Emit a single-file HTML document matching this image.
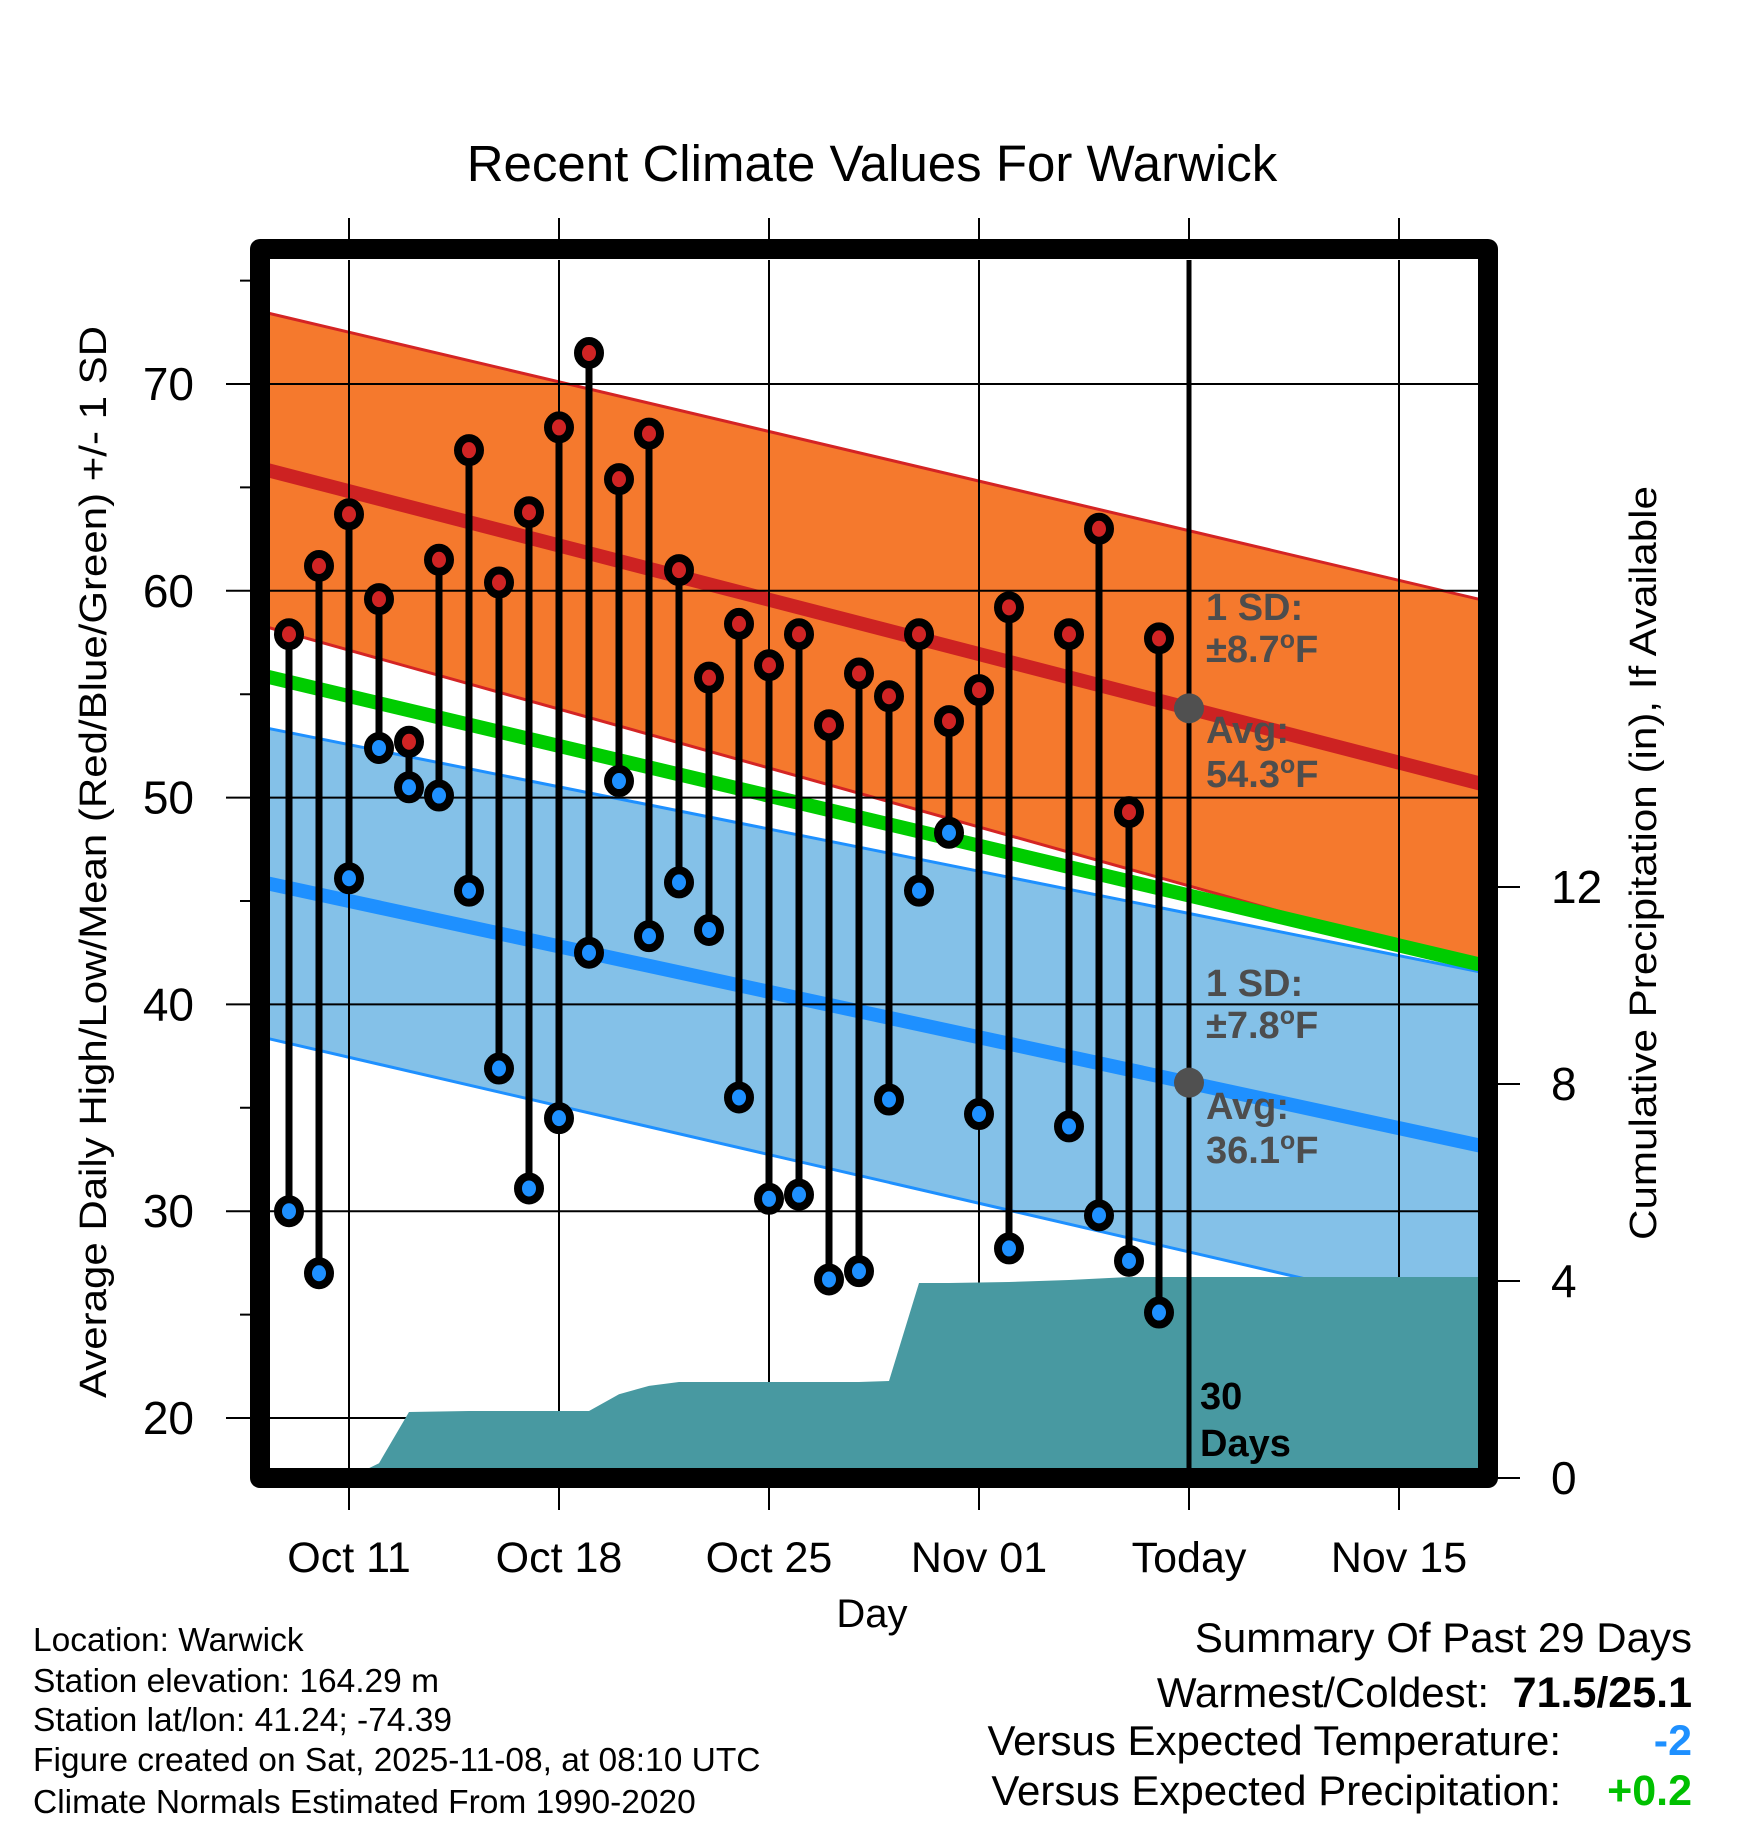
<!DOCTYPE html>
<html><head><meta charset="utf-8"><style>
html,body{margin:0;padding:0;background:#fff;}
svg{display:block;font-family:"Liberation Sans",Arial,sans-serif;}
</style></head><body>
<svg id="chart" width="1748" height="1828" viewBox="0 0 1748 1828" xmlns="http://www.w3.org/2000/svg">
<defs><clipPath id="plotClip"><rect x="270" y="260" width="1208" height="1208"/></clipPath></defs>
<g id="plot" clip-path="url(#plotClip)"></g>
<g id="overlay"></g>
<text x="872" y="181" font-size="51" text-anchor="middle">Recent Climate Values For Warwick</text>
<text x="872" y="1627" font-size="40" text-anchor="middle">Day</text>
<text transform="translate(106,862) rotate(-90)" font-size="38" text-anchor="middle" textLength="1072" lengthAdjust="spacingAndGlyphs">Average Daily High/Low/Mean (Red/Blue/Green) +/- 1 SD</text>
<text transform="translate(1656,863) rotate(-90)" font-size="38" text-anchor="middle" textLength="754" lengthAdjust="spacingAndGlyphs">Cumulative Precipitation (in), If Available</text>
<g font-size="33.5">
<text x="33" y="1651">Location: Warwick</text>
<text x="33" y="1692">Station elevation: 164.29 m</text>
<text x="33" y="1731">Station lat/lon: 41.24; -74.39</text>
<text x="33" y="1771">Figure created on Sat, 2025-11-08, at 08:10 UTC</text>
<text x="33" y="1813">Climate Normals Estimated From 1990-2020</text>
</g>
<g font-size="42">
<text x="1692" y="1652" text-anchor="end">Summary Of Past 29 Days</text>
<text x="1489" y="1707" text-anchor="end">Warmest/Coldest:</text>
<text x="1692" y="1707" text-anchor="end" font-weight="bold" font-size="43">71.5/25.1</text>
<text x="1561" y="1755" text-anchor="end">Versus Expected Temperature:</text>
<text x="1692" y="1755" text-anchor="end" font-weight="bold" fill="#1e90ff" font-size="43">-2</text>
<text x="1561" y="1805" text-anchor="end">Versus Expected Precipitation:</text>
<text x="1692" y="1805" text-anchor="end" font-weight="bold" fill="#00c000" font-size="43">+0.2</text>
</g>
</svg>
<script>
// days offset from Oct 11
const dataDays = [-2,-1,0,1,2,3,4,5,6,7,8,9,10,11,12,13,14,15,16,17,18,19,20,21,22,24,25,26,27];
const highs = [57.9,61.2,63.7,59.6,52.7,61.5,66.8,60.4,63.8,67.9,71.5,65.4,67.6,61.0,55.8,58.4,56.4,57.9,53.5,56.0,54.9,57.9,53.7,55.2,59.2,57.9,63.0,49.3,57.7];
const lows = [30.0,27.0,46.1,52.4,50.5,50.1,45.5,36.9,31.1,34.5,42.5,50.8,43.3,45.9,43.6,35.5,30.6,30.8,26.7,27.1,35.4,45.5,48.3,34.7,28.2,34.1,29.8,27.6,25.1];
const precipDays = [-2,-1,0,1,2,3,4,5,6,7,8,9,10,11,12,13,14,15,16,17,18,19,20,21,22,23,24,25,26,27,37.7];
const precip = [0,0,0,0.3,1.34,1.35,1.36,1.36,1.36,1.36,1.36,1.7,1.87,1.95,1.95,1.95,1.95,1.95,1.95,1.95,1.97,3.96,3.96,3.97,3.98,4.0,4.02,4.05,4.08,4.08,4.08];
const normalDays = [-2.7,37.7];
const normHigh = [65.83,50.68];
const normLow = [45.85,33.17];
const sdHigh = [7.6,8.9];
const sdLow = [7.5,8.4];
const xTickDays = [0,7,14,21,28,35];
const xTickLabels = ["Oct 11","Oct 18","Oct 25","Nov 01","Today","Nov 15"];
const yTicks = [20,30,40,50,60,70];
const yMinor = [25,35,45,55,65,75];
const y2Ticks = [0,4,8,12];
const todayDay = 28;

const NS="http://www.w3.org/2000/svg";
const x=d=>349+30*d;
const yT=t=>1418-(t-20)*20.68;
const yP=p=>1478-p*49.25;
const plot=document.getElementById('plot');
const ov=document.getElementById('overlay');
function mk(tag,attrs,parent){const e=document.createElementNS(NS,tag);for(const k in attrs)e.setAttribute(k,attrs[k]);(parent||plot).appendChild(e);return e;}

function bandPts(arr,sd,sign){return normalDays.map((d,i)=>x(d)+','+yT(arr[i]+sign*(sd?sd[i]:0)));}
function band(arr,sd,fill,edge,name){
  const up=bandPts(arr,sd,1), lo=bandPts(arr,sd,-1);
  const p=mk('polygon',{points:up.concat(lo.slice().reverse()).join(' '),fill:fill});
  
  
  [1,-1].forEach(s=>{const l=mk('polyline',{points:bandPts(arr,sd,s).join(' '),fill:'none',stroke:edge,'stroke-width':3});
    
    });
}
band(normHigh,sdHigh,'#f5792d','#d42424','high');
band(normLow,sdLow,'#84c1e8','#1e90ff','low');
const meanArr=normHigh.map((v,i)=>(v+normLow[i])/2);
[[normHigh,'#cd2222','normal-high-line'],[normLow,'#1e90ff','normal-low-line'],[meanArr,'#00cc00','normal-mean-line']].forEach(([a,c,n])=>{
  const l=mk('polyline',{points:bandPts(a,null,0).join(' '),fill:'none',stroke:c,'stroke-width':14});
  
  
});
yTicks.forEach(t=>{const l=mk('line',{x1:270,x2:1478,y1:yT(t),y2:yT(t),stroke:'#000','stroke-width':2});
  
  });
xTickDays.forEach(d=>{const l=mk('line',{x1:x(d),x2:x(d),y1:260,y2:1468,stroke:'#000','stroke-width':2});
  
  });
const pp=precipDays.map((d,i)=>x(d)+','+yP(precip[i]));
const pa=mk('polygon',{points:[x(precipDays[0])+','+1490].concat(pp).concat([x(precipDays[precipDays.length-1])+','+1490]).join(' '),fill:'#4899a1'});


const tl=mk('line',{x1:x(todayDay),x2:x(todayDay),y1:260,y2:1468,stroke:'#000','stroke-width':5});


dataDays.forEach((d,i)=>{
  const s=mk('line',{x1:x(d),x2:x(d),y1:yT(highs[i]),y2:yT(lows[i]),stroke:'#000','stroke-width':7});
  
  
});
dataDays.forEach((d,i)=>{
  const h=mk('ellipse',{cx:x(d),cy:yT(highs[i]),rx:11,ry:12,fill:'#d02424',stroke:'#000','stroke-width':8});
  
  
  const l=mk('ellipse',{cx:x(d),cy:yT(lows[i]),rx:11,ry:12,fill:'#1e90ff',stroke:'#000','stroke-width':8});
  
  
});
[[normHigh,'today-high-marker'],[normLow,'today-low-marker']].forEach(([a,n])=>{
  const v=a[0]+(a[1]-a[0])*(todayDay-normalDays[0])/(normalDays[1]-normalDays[0]);
  const c=mk('circle',{cx:x(todayDay),cy:yT(v),r:15,fill:'#505050'});
  
  
});
function txt(parent,xx,yy,html,attrs,name){const t=mk('text',Object.assign({x:xx,y:yy},attrs),parent);t.innerHTML=html;
  
  return t;}
const ann={'font-size':38,'font-weight':'bold',fill:'#4d4d4d'};
const deg='<tspan font-size="25" dy="-14">o</tspan><tspan dy="14">F</tspan>';
txt(plot,1206,620,'1 SD:',ann,'high-sd-label');
txt(plot,1206,662,'±8.7'+deg,ann,'high-sd-value');
txt(plot,1206,743,'Avg:',ann,'high-avg-label');
txt(plot,1206,787,'54.3'+deg,ann,'high-avg-value');
txt(plot,1206,996,'1 SD:',ann,'low-sd-label');
txt(plot,1206,1038,'±7.8'+deg,ann,'low-sd-value');
txt(plot,1206,1119,'Avg:',ann,'low-avg-label');
txt(plot,1206,1163,'36.1'+deg,ann,'low-avg-value');
txt(plot,1200,1409,'30',{'font-size':38,'font-weight':'bold',fill:'#000'},'days-label');
txt(plot,1200,1456,'Days',{'font-size':38,'font-weight':'bold',fill:'#000'},'days-label-2');

yTicks.forEach(t=>{mk('line',{x1:226,x2:260,y1:yT(t),y2:yT(t),stroke:'#000','stroke-width':2},ov);
  txt(ov,194,yT(t)+16,String(t),{'font-size':46,'text-anchor':'end'},'y-tick-label');});
yMinor.forEach(t=>{const m=mk('line',{x1:240,x2:260,y1:yT(t),y2:yT(t),stroke:'#000','stroke-width':2},ov);
  
  });
xTickDays.forEach((d,i)=>{
  const a=mk('line',{x1:x(d),x2:x(d),y1:218,y2:249,stroke:'#000','stroke-width':2},ov);
  
  
  const b=mk('line',{x1:x(d),x2:x(d),y1:1478,y2:1510,stroke:'#000','stroke-width':2},ov);
  
  
  txt(ov,x(d),1572,xTickLabels[i],{'font-size':43,'text-anchor':'middle'},'x-tick-label');
});
y2Ticks.forEach(p=>{const t=mk('line',{x1:1488,x2:1520,y1:yP(p),y2:yP(p),stroke:'#000','stroke-width':2},ov);
  
  
  txt(ov,1551,yP(p)+16,String(p),{'font-size':46},'y2-tick-label');});
const fr=mk('rect',{x:260,y:249,width:1228,height:1229,fill:'none',stroke:'#000','stroke-width':20,'stroke-linejoin':'round'},ov);


</script>
</body></html>
